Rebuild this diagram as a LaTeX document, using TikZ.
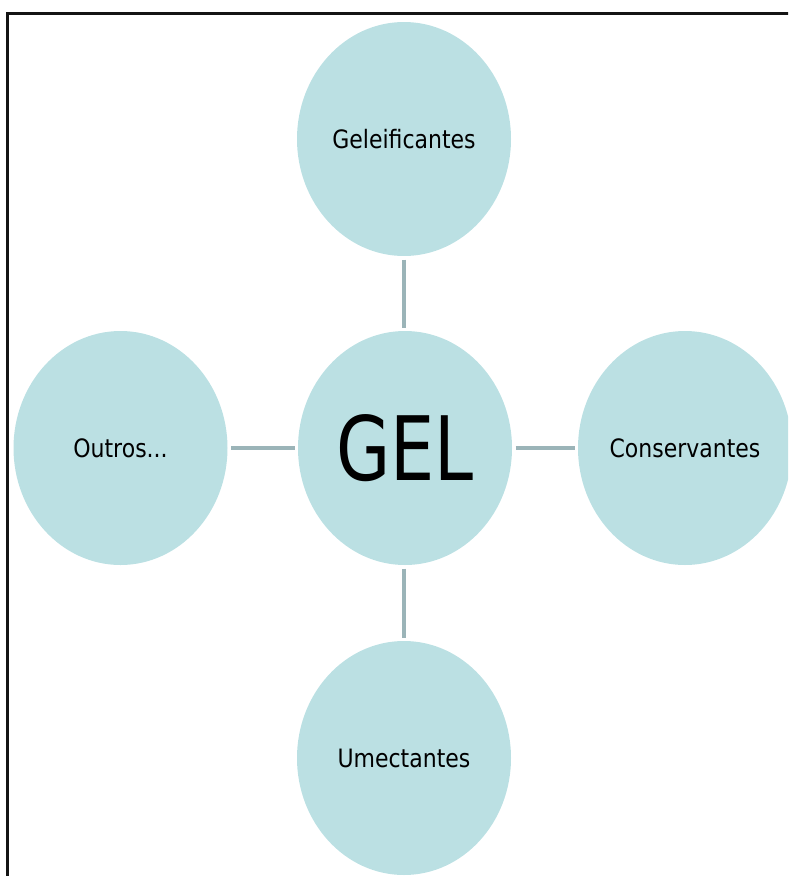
\documentclass[tikz,border=0pt]{standalone}
\usepackage{fontspec}
\setmainfont{DejaVu Sans}
\usetikzlibrary{shapes.geometric}
\definecolor{bubble}{RGB}{187,224,227}
\definecolor{linkgray}{RGB}{155,180,184}
\definecolor{framegray}{RGB}{20,20,20}
\begin{document}
\begin{tikzpicture}[x=1pt,y=-1pt,
  bubble/.style={ellipse, fill=bubble, draw=none, inner sep=0pt, outer sep=0pt,
    minimum width=214pt, minimum height=234pt, font=\fontsize{22}{24}\selectfont},
  hub/.style={bubble, font=\fontsize{70}{72}\selectfont},
  link/.style={draw=linkgray, line width=4.5pt, shorten <=3.5pt, shorten >=3.5pt}]
  \useasboundingbox (0,0) rectangle (788,876);
  \clip (0,0) rectangle (788,876);

  % frame (only top and left edges are visible)
  \draw[framegray, line width=2.2pt] (7.5,877) -- (7.5,13.5) -- (790,13.5);

  % central hub and its four satellites
  \node[hub] (gel) at (405,448) {\scalebox{1}[1.27]{GEL}};
  \node[bubble] (gelif) at (404,139) {\scalebox{1}[1.15]{Geleificantes}};
  \node[bubble] (outros) at (120.5,448) {\scalebox{1}[1.15]{Outros...}};
  \node[bubble] (cons) at (685,448) {\scalebox{1}[1.15]{Conservantes}};
  \node[bubble] (umec) at (404,758) {\scalebox{1}[1.15]{Umectantes}};

  % connectors
  \draw[link] (gelif) -- (gelif |- gel.north);
  \draw[link] (umec |- gel.south) -- (umec);
  \draw[link] (outros) -- (gel);
  \draw[link] (gel) -- (cons);
\end{tikzpicture}
\end{document}
